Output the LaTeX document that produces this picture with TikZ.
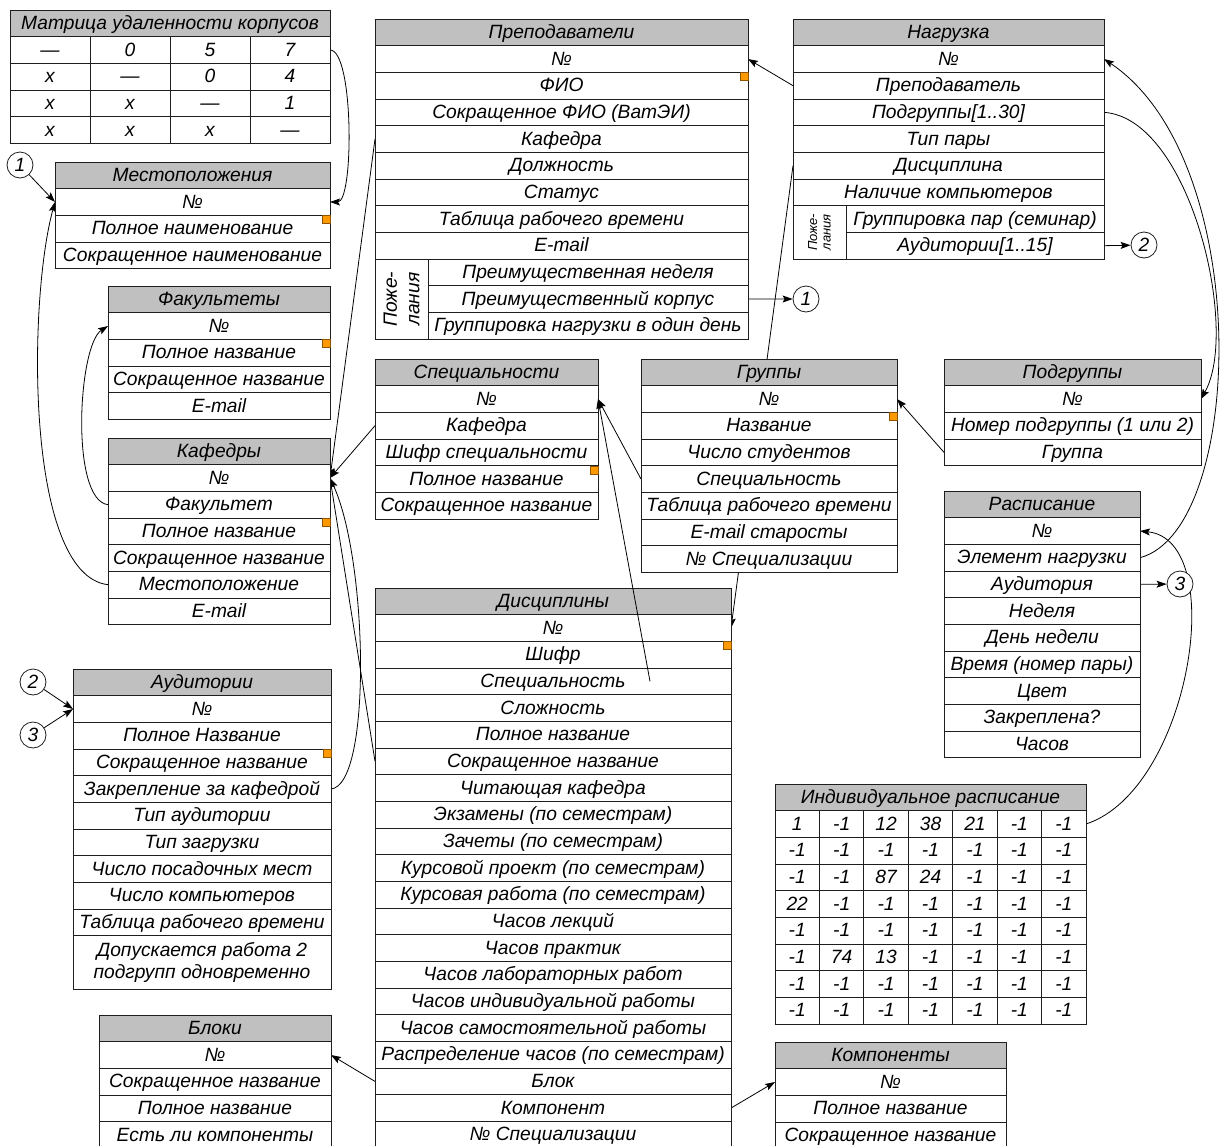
\documentclass[tikz,border=0pt]{standalone}
\usepackage{fontspec}
\setmainfont{Liberation Sans}
\usepackage{tikz}
\usetikzlibrary{arrows.meta, positioning, calc, backgrounds}
\definecolor{HeadGray}{HTML}{C0C0C0}
\definecolor{KeyOrange}{HTML}{FF9900}
\definecolor{EdgeDark}{HTML}{1E1E1E}
\tikzset{
  tbl base/.style={draw=EdgeDark, line width=1pt, fill=white, inner sep=0pt,
                   outer sep=0pt, minimum height=26.67pt, anchor=north west,
                   font=\itshape\fontsize{19.2}{22.5}\selectfont},
  tbl row/.style={tbl base, text height=15pt, text depth=2.5pt},
  tbl head/.style={tbl row, fill=HeadGray},
  wish cell/.style={tbl base, rotate=90, anchor=center, align=center},
  key mark/.style={draw=KeyOrange!55!black, fill=KeyOrange, line width=0.4pt,
                   minimum size=8pt, inner sep=0pt, anchor=north east},
  ref circle/.style={circle, draw=EdgeDark, fill=white, line width=0.8pt,
                     minimum size=26pt, inner sep=0pt,
                     font=\itshape\fontsize{19.2}{22}\selectfont},
  link edge/.style={-{Stealth[length=10pt, width=7pt, inset=2pt]}, line width=0.8pt},
}
% one entity: name, x, y, width, title, rows
\newcommand{\dbtable}[6]{%
  \node[tbl head, minimum width=#4pt] (#1-0) at (#2,#3) {#5};
  \foreach \txt [count=\i] in {#6}
    \node[tbl row, minimum width=#4pt] (#1-\i) at (#2,{#3+\i*26.67}) {\txt};
}

\begin{document}
\begin{tikzpicture}[x=1pt, y=-1pt]
  \useasboundingbox (0,0) rectangle (1224,1146);

  % distance matrix
  \node[tbl head, minimum width=320pt] (mat-0) at (10,10) {Матрица удаленности корпусов};
  \foreach \vals [count=\r] in {{—,0,5,7},{x,—,0,4},{x,x,—,1},{x,x,x,—}}
    \foreach \v [count=\c] in \vals
      \node[tbl row, minimum width=80pt] (mat-\r-\c) at ({10+(\c-1)*80},{10+\r*26.67}) {\v};

  \dbtable{loc}{55}{162}{275}{Местоположения}{№,Полное наименование,Сокращенное наименование}
  \dbtable{fac}{108}{286}{222}{Факультеты}{№,Полное название,Сокращенное название,E-mail}
  \dbtable{kaf}{108}{438}{222}{Кафедры}{№,Факультет,Полное название,Сокращенное название,Местоположение,E-mail}

  % teachers
  \dbtable{prep}{375}{19}{373}{Преподаватели}{№,ФИО,Сокращенное ФИО (ВатЭИ),Кафедра,Должность,Статус,Таблица рабочего времени,E-mail}
  \foreach \txt [count=\i from 9] in {Преимущественная неделя,Преимущественный корпус,Группировка нагрузки в один день}
    \node[tbl row, minimum width=320pt] (prep-\i) at (428,{19+\i*26.67}) {\txt};
  \node[wish cell, minimum width=80pt, minimum height=53pt] (prep-w) at (401.5,299.0) {Поже-\\лания};

  % load
  \dbtable{nag}{793}{19}{311}{Нагрузка}{№,Преподаватель,Подгруппы[1..30],Тип пары,Дисциплина,Наличие компьютеров}
  \foreach \txt [count=\i from 7] in {Группировка пар (семинар),Аудитории[1..15]}
    \node[tbl row, minimum width=258pt] (nag-\i) at (846,{19+\i*26.67}) {\txt};
  \node[wish cell, minimum width=53.33pt, minimum height=53pt,
        font=\itshape\fontsize{13}{13.5}\selectfont] (nag-w) at (819.5,232.35) {Поже-\\лания};

  \dbtable{spec}{375}{359}{223}{Специальности}{№,Кафедра,Шифр специальности,Полное название,Сокращенное название}
  \dbtable{grp}{641}{359}{256}{Группы}{№,Название,Число студентов,Специальность,Таблица рабочего времени,E-mail старосты,№ Специализации}
  \dbtable{sub}{944}{359}{257}{Подгруппы}{№,Номер подгруппы (1 или 2),Группа}
  \dbtable{ras}{944}{491}{196}{Расписание}{№,Элемент нагрузки,Аудитория,Неделя,День недели,Время (номер пары),Цвет,Закреплена?,Часов}

  % rooms
  \dbtable{aud}{73}{669}{258}{Аудитории}{№,Полное Название,Сокращенное название,Закрепление за кафедрой,Тип аудитории,Тип загрузки,Число посадочных мест,Число компьютеров,Таблица рабочего времени}
  \node[tbl base, minimum width=258pt, minimum height=53.33pt, align=center] (aud-10)
    at (73,{669+10*26.67}) {Допускается работа 2\\подгрупп одновременно};

  \dbtable{disc}{375}{588}{356}{Дисциплины}{№,Шифр,Специальность,Сложность,Полное название,Сокращенное название,Читающая кафедра,Экзамены (по семестрам),Зачеты (по семестрам),Курсовой проект (по семестрам),Курсовая работа (по семестрам),Часов лекций,Часов практик,Часов лабораторных работ,Часов индивидуальной работы,Часов самостоятельной работы,Распределение часов (по семестрам),Блок,Компонент,№ Специализации}

  % individual timetable
  \node[tbl head, minimum width=311pt] (ind-0) at (775,784) {Индивидуальное расписание};
  \foreach \vals [count=\r] in {{1,-1,12,38,21,-1,-1},{-1,-1,-1,-1,-1,-1,-1},
      {-1,-1,87,24,-1,-1,-1},{22,-1,-1,-1,-1,-1,-1},{-1,-1,-1,-1,-1,-1,-1},
      {-1,74,13,-1,-1,-1,-1},{-1,-1,-1,-1,-1,-1,-1},{-1,-1,-1,-1,-1,-1,-1}}
    \foreach \v [count=\c] in \vals
      \node[tbl row, minimum width=44.43pt] (ind-\r-\c) at ({775+(\c-1)*44.43},{784+\r*26.67}) {\v};

  \dbtable{blk}{99}{1015}{232}{Блоки}{№,Сокращенное название,Полное название,Есть ли компоненты}
  \dbtable{cmp}{775}{1042}{231}{Компоненты}{№,Полное название,Сокращенное название}

  % primary key marks
  \foreach \k in {loc-2,prep-2,fac-2,kaf-3,spec-4,grp-2,aud-3,disc-2}
    \node[key mark] at (\k.north east) {};

  % off-page references
  \node[ref circle] (ref1 in) at (20,165) {1};
  \node[ref circle] (ref1 out) at (806,299) {1};
  \node[ref circle] (ref2 out) at (1144,245) {2};
  \node[ref circle] (ref2 in) at (33,682) {2};
  \node[ref circle] (ref3 out) at (1180,584) {3};
  \node[ref circle] (ref3 in) at (33,735) {3};

  \coordinate (disc spec end) at ($(disc-3.center)+(97,0)$);
  \draw[link edge] (disc spec end) -- (spec-1.east);

  \begin{scope}[on background layer]
    \draw[link edge] (mat-1-4.east) .. controls +(24,0) and +(24,0) .. (loc-1.east);
    \draw[link edge] (ref1 in) -- (loc-1.west);
    \draw[link edge] (kaf-5.west) .. controls (25,575) and (28,300) .. (loc-1.west);
    \draw[link edge] (kaf-2.west) .. controls (70,500) and (78,345) .. (fac-1.west);
    \draw[link edge] (prep-4.west) -- (kaf-1.east);
    \draw[link edge] (spec-2.west) -- (kaf-1.east);
    \draw[link edge] (disc-6.west) -- (kaf-1.east);
    \draw[link edge] (aud-4.east) .. controls (372,785) and (368,560) .. (kaf-1.east);
    \draw[link edge] (grp-4.west) -- (spec-1.east);
    \draw[link edge] (nag-5.west) -- (disc-1.east);
    \draw[link edge] (nag-2.west) -- (prep-1.east);
    \draw[link edge] (nag-3.east) .. controls (1190,118) and (1240,330) .. (sub-1.east);
    \draw[link edge] (ras-2.east) .. controls (1245,530) and (1255,160) .. (nag-1.east);
    \draw[link edge] (ind-1-7.east) .. controls (1190,790) and (1230,540) .. (ras-1.east);
    \draw[link edge] (ras-3.east) -- (ref3 out);
    \draw[link edge] (nag-8.east) -- (ref2 out);
    \draw[link edge] (prep-10.east) -- (ref1 out);
    \draw[link edge] (ref2 in) -- (aud-1.west);
    \draw[link edge] (ref3 in) -- (aud-1.west);
    \draw[link edge] (sub-3.west) -- (grp-1.east);
    \draw[link edge] (disc-18.west) -- (blk-1.east);
    \draw[link edge] (disc-19.east) -- (cmp-1.west);
  \end{scope}
\end{tikzpicture}
\end{document}
